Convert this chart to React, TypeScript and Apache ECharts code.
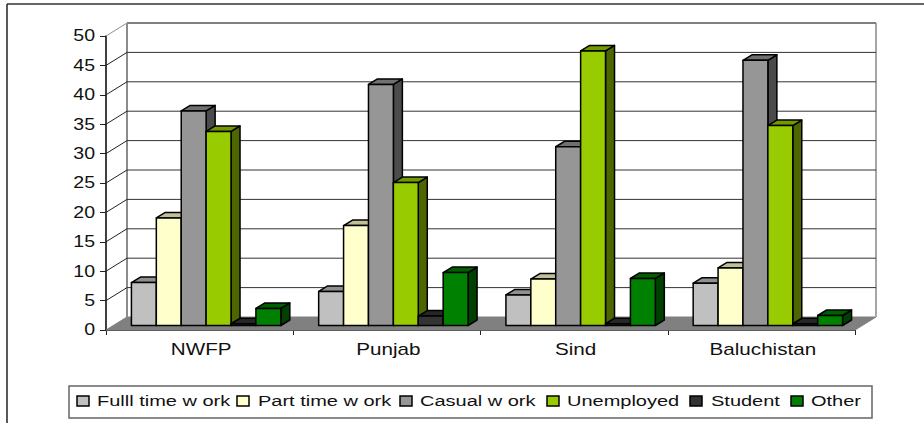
import React, { useEffect, useRef } from "react";
import * as echarts from "echarts";

const categories = ["NWFP", "Punjab", "Sind", "Baluchistan"];
const yTicks = [0, 5, 10, 15, 20, 25, 30, 35, 40, 45, 50];
const seriesNames = ["Fulll time w ork", "Part time w ork", "Casual w ork", "Unemployed", "Student", "Other"];
const fullTime = [7.3, 5.8, 5.2, 7.2];
const partTime = [18.3, 17, 7.9, 9.8];
const casual = [36.5, 41, 30.4, 45.1];
const unemployed = [33, 24.3, 46.7, 34];
const student = [0.3, 1.6, 0.3, 0.3];
const other = [2.9, 9, 8, 1.7];
const seriesValues = [fullTime, partTime, casual, unemployed, student, other];

const frontColors = ["#C0C0C0", "#FFFFCC", "#969696", "#99CC00", "#333333", "#008000"];
const topColors = ["#909090", "#BFBF99", "#707070", "#739900", "#262626", "#006000"];
const sideColors = ["#606060", "#808066", "#4B4B4B", "#4D6600", "#1A1A1A", "#004000"];

const legendSwatchX = [77, 237, 400, 547, 690, 791];
const legendTextX = [97, 258, 420, 567, 711, 811];

const FONT = "'Liberation Sans', Arial, sans-serif";
const TEXT_STRETCH = 1.29;
const BAR_W = 24.9;
const DEPTH_X = 9;
const DEPTH_Y = 5.5;
const WALL_X = 21;
const WALL_Y = 13;

const wallRender = (params: any, api: any) => {
  const tick = api.value(1);
  const cs = params.coordSys;
  const y = api.coord([0, tick])[1];
  const left = cs.x;
  const right = cs.x + cs.width;
  const children: any[] = [];
  const isTop = tick === yTicks[yTicks.length - 1];
  const line = (x1: number, y1: number, x2: number, y2: number, stroke: string, lineWidth: number) => ({
    type: "line",
    shape: { x1, y1, x2, y2 },
    style: { stroke, lineWidth, fill: null },
  });
  if (tick === 0) {
    children.push({
      type: "polygon",
      shape: { points: [[left, y], [right, y], [right + WALL_X, y - WALL_Y], [left + WALL_X, y - WALL_Y]] },
      style: { fill: "#808080", stroke: "#808080" },
    });
    const topY = api.coord([0, yTicks[yTicks.length - 1]])[1];
    children.push(line(left + WALL_X, topY - WALL_Y + 1, left + WALL_X, y - WALL_Y, "#8C8C8C", 2));
    children.push(line(right + WALL_X, topY - WALL_Y, right + WALL_X, y - WALL_Y, "#A6A6A6", 2));
  } else {
    children.push(line(left + WALL_X, y - WALL_Y, right + WALL_X, y - WALL_Y, isTop ? "#808080" : "#333333", isTop ? 2 : 1));
    children.push(line(left, y, left + WALL_X, y - WALL_Y, isTop ? "#909090" : "#222222", 1));
  }
  children.push({
    type: "text",
    x: left - 11,
    y,
    scaleX: 1.22,
    style: {
      text: String(tick),
      x: 0,
      y: 0,
      align: "right",
      verticalAlign: "middle",
      fontFamily: FONT,
      fontSize: 16,
      fill: "#111111",
    },
  });
  return { type: "group", children };
};

const barRender = (index: number) => (_params: any, api: any) => {
  const cat = api.value(0);
  const top = api.coord([cat, api.value(1)]);
  const base = api.coord([cat, 0]);
  const x0 = top[0] - (BAR_W * seriesNames.length) / 2 + index * BAR_W + 6.5;
  const x1 = x0 + BAR_W;
  const yTop = top[1] - 4.5;
  const yBase = base[1] - 4.5;
  const border = { stroke: "#000000", lineWidth: 1.5, lineJoin: "round" };
  return {
    type: "group",
    children: [
      {
        type: "polygon",
        shape: { points: [[x1, yTop], [x1 + DEPTH_X, yTop - DEPTH_Y], [x1 + DEPTH_X, yBase - DEPTH_Y], [x1, yBase]] },
        style: { fill: sideColors[index], ...border },
      },
      {
        type: "polygon",
        shape: { points: [[x0, yTop], [x0 + DEPTH_X, yTop - DEPTH_Y], [x1 + DEPTH_X, yTop - DEPTH_Y], [x1, yTop]] },
        style: { fill: topColors[index], ...border },
      },
      {
        type: "rect",
        shape: { x: x0, y: yTop, width: BAR_W, height: yBase - yTop },
        style: { fill: frontColors[index], ...border },
      },
    ],
  };
};

const catLabelRender = (_params: any, api: any) => {
  const cat = api.value(0);
  const p = api.coord([cat, 0]);
  return {
    type: "text",
    x: p[0] + 1.5,
    y: p[1] + 19,
    scaleX: TEXT_STRETCH,
    style: {
      text: categories[cat],
      x: 0,
      y: 0,
      align: "center",
      verticalAlign: "middle",
      fontFamily: FONT,
      fontSize: 16,
      fill: "#111111",
    },
  };
};

const legendGraphics = () => {
  const els: any[] = [
    {
      type: "rect",
      shape: { x: 69, y: 386, width: 803, height: 32 },
      style: { fill: "#FFFFFF", stroke: "#666666", lineWidth: 1.5 },
    },
  ];
  seriesNames.forEach((name, i) => {
    els.push({
      type: "rect",
      shape: { x: legendSwatchX[i], y: 396, width: 12, height: 10 },
      style: { fill: frontColors[i], stroke: "#000000", lineWidth: 1.5 },
    });
    els.push({
      type: "text",
      x: legendTextX[i],
      y: 401,
      scaleX: TEXT_STRETCH,
      style: {
        text: name,
        x: 0,
        y: 0,
        align: "left",
        verticalAlign: "middle",
        fontFamily: FONT,
        fontSize: 15.5,
        fill: "#111111",
      },
    });
  });
  return els;
};

export default function App() {
  const ref = useRef<HTMLDivElement>(null);
  useEffect(() => {
    if (!ref.current) return;
    const chart = echarts.init(ref.current, undefined, { renderer: "svg" });
    chart.setOption({
      animation: false,
      backgroundColor: "#FFFFFF",
      grid: { left: 106, top: 36, width: 749, height: 294 },
      xAxis: {
        type: "category",
        data: categories,
        axisLine: { lineStyle: { color: "#000000", width: 1.5 } },
        axisTick: { show: true, length: 5, lineStyle: { color: "#222222" } },
        axisLabel: { show: false },
      },
      yAxis: {
        type: "value",
        min: 0,
        max: 50,
        interval: 5,
        axisLine: { show: true, lineStyle: { color: "#000000", width: 1.5 } },
        axisTick: { show: true, length: 6, lineStyle: { color: "#222222" } },
        axisLabel: { show: false },
        splitLine: { show: false },
      },
      graphic: {
        elements: [
          { type: "line", shape: { x1: 7, y1: 4, x2: 924, y2: 4 }, style: { stroke: "#333333", lineWidth: 1.5 } },
          { type: "line", shape: { x1: 7, y1: 4, x2: 7, y2: 423 }, style: { stroke: "#222222", lineWidth: 1.5 } },
          ...legendGraphics(),
        ],
      },
      series: [
        {
          type: "custom",
          name: "walls",
          silent: true,
          z: 1,
          renderItem: wallRender,
          data: yTicks.map((t) => [0, t]),
          encode: { x: 0, y: 1 },
        },
        ...seriesValues.map((vals, i) => ({
          type: "custom",
          name: seriesNames[i],
          silent: true,
          z: 2 + i,
          renderItem: barRender(i),
          data: vals.map((v, c) => [c, v]),
          encode: { x: 0, y: 1 },
        })),
        {
          type: "custom",
          name: "labels",
          silent: true,
          z: 10,
          renderItem: catLabelRender,
          data: categories.map((_, c) => [c, 0]),
          encode: { x: 0, y: 1 },
        },
      ],
    });
    return () => chart.dispose();
  }, []);
  return <div ref={ref} style={{ position: "absolute", left: 0, top: 0, width: 924, height: 423 }} />;
}
